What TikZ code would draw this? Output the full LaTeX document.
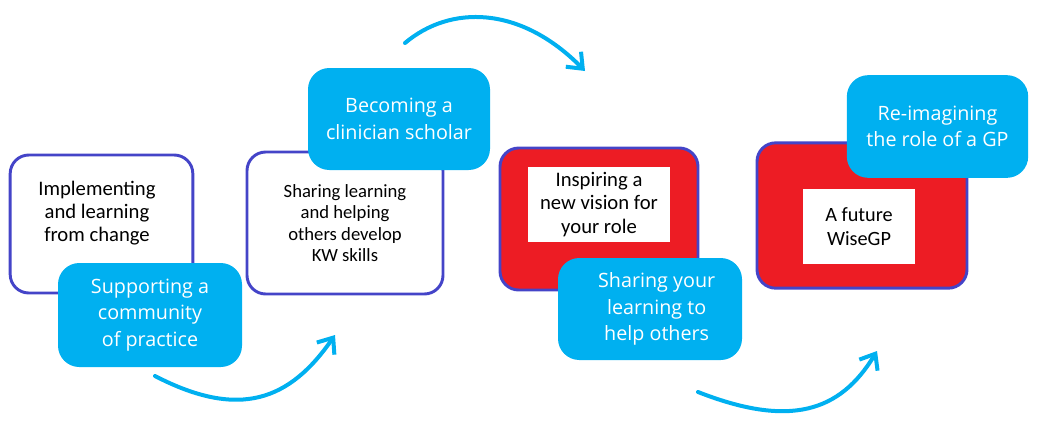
\documentclass[tikz,border=0pt]{standalone}
\usepackage{fontspec}
\setmainfont{Carlito}
\newfontfamily\bluefont{Open Sans}
\usepackage{xcolor}
\definecolor{wgblue}{RGB}{0,176,240}
\definecolor{wgred}{RGB}{237,28,36}
\definecolor{wgpurple}{RGB}{68,68,200}
\usetikzlibrary{arrows.meta}

\begin{document}
\begin{tikzpicture}[
    x=0.75pt, y=-0.75pt,
    outerbox/.style={draw=wgpurple, fill=white, line width=2.2pt, rounded corners=14pt,
                     inner sep=0pt},
    redbox/.style={outerbox, fill=wgred},
    innerbox/.style={fill=white, inner sep=0pt, align=center,
                     font=\fontsize{15.5}{17.5}\selectfont},
    bluebox/.style={fill=wgblue, rounded corners=16pt, inner sep=0pt, text=white,
                    align=center, font=\bluefont\fontsize{14.8}{19.8}\selectfont},
    blktext/.style={align=center, font=\fontsize{15.5}{17.5}\selectfont},
    curvearr/.style={-{Straight Barb[length=10pt, width=16pt, line width=3pt]},
                     wgblue, line width=3pt, line cap=round},
]
\useasboundingbox (0,0) rectangle (1037,433);

% ===== stage 1 =====
\node[outerbox, minimum width=137pt, minimum height=103.5pt] (box1) at (101.5,224) {};
\node[blktext] (txt1) at (97,213) {Implementing\\and learning\\from change};
\node[bluebox, minimum width=138pt, minimum height=78pt] (blue1) at (150,315)
      {Supporting a\\community\\of practice};

% ===== stage 2 =====
\node[outerbox, minimum width=147pt, minimum height=106.5pt,
      font=\fontsize{14}{16}\selectfont, align=center] (box2) at (345,223)
      {Sharing learning\\and helping\\others develop\\KW skills};
\node[bluebox, minimum width=136.5pt, minimum height=76.5pt] (blue2) at (399,119)
      {Becoming a\\clinician scholar};

% ===== stage 3 =====
\node[redbox, minimum width=148.5pt, minimum height=106.5pt] (red1) at (599,219) {};
\node[innerbox, minimum width=106.5pt, minimum height=56pt] (inner1) at (599,204.5)
      {Inspiring a\\new vision for\\your role};
\node[bluebox, minimum width=138pt, minimum height=76.5pt] (blue3) at (650,309)
      {\hspace*{10pt}Sharing your\\\hspace*{10pt}learning to\\\hspace*{10pt}help others};

% ===== stage 4 =====
\node[redbox, minimum width=157.5pt, minimum height=109pt] (red2) at (862,215.5) {};
\node[innerbox, minimum width=84pt, minimum height=56pt,
      font=\fontsize{15.2}{18}\selectfont] (inner2) at (859,226.5) {A future\\WiseGP};
\node[bluebox, minimum width=136pt, minimum height=77pt] (blue4) at (937.5,126.5)
      {Re-imagining\\the role of a GP};

% curved arrows between stages
\coordinate (a1s) at (155,376);
\coordinate (a1e) at (335,335);
\coordinate (a2s) at (405,43);
\coordinate (a2e) at (585,71);
\coordinate (a3s) at (698,392);
\coordinate (a3e) at (877,351);

\draw[curvearr] (a1s) .. controls (240,420) and (290,400) .. (a1e);
\draw[curvearr] (a2s) .. controls (450,5) and (520,5) .. (a2e);
\draw[curvearr] (a3s) .. controls (790,428) and (840,412) .. (a3e);

\end{tikzpicture}
\end{document}
